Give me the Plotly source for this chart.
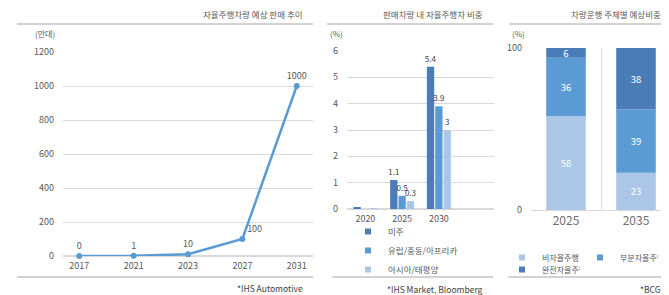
import plotly.graph_objects as go
import numpy as np

W, H = 669, 295
OX, OY = 8, 8  # page body margin offset
FONT = "Noto Sans CJK KR"
GRAY = "#595959"
LINE = "#A6A6A6"
GRID = "#D9D9D9"


def px(x):
    return (x - OX) / W


def py(y):
    return 1 - (y - OY) / H


# ---- Panel 1: 자율주행차량 예상 판매 추이 ----
sales_years = ["2017", "2021", "2023", "2027", "2031"]
sales_values = [0, 1, 10, 100, 1000]
sales_ticks = [0, 200, 400, 600, 800, 1000, 1200]

# ---- Panel 2: 판매차량 내 자율주행차 비중 ----
share_years = ["2020", "2025", "2030"]
share_americas = [0.04, 1.1, 5.4]
share_emea = [0.0, 0.5, 3.9]
share_apac = [0.03, 0.3, 3.0]
share_names = ["미주", "유럽/중동/아프리카", "아시아/태평양"]
share_ticks = [0, 1, 2, 3, 4, 5, 6]

# ---- Panel 3: 차량운행 주체별 예상비중 ----
mode_years = ["2025", "2035"]
mode_non = [58, 23]
mode_partial = [36, 39]
mode_full = [6, 38]
mode_names = ["비자율주행", "부분자율주행", "완전자율주행"]

C_DARK = "#4A7DB8"
C_MID = "#5B9BD5"
C_LIGHT = "#ABC6E7"

fig = go.Figure()

# Panel 1 line
fig.add_trace(go.Scatter(
    x=sales_years, y=sales_values, mode="lines+markers+text",
    text=[str(v) for v in sales_values],
    textposition=["top center", "top center", "top center", "top right", "top center"],
    textfont=dict(size=9, color=GRAY, family=FONT),
    line=dict(color=C_MID, width=2.5), marker=dict(size=6, color=C_MID),
    cliponaxis=False, showlegend=False, xaxis="x", yaxis="y",
))


# Panel 2 grouped bars
def lab(vals):
    return [(f"{v:g}" if v >= 0.1 else "") for v in vals]


for vals, name, col in zip([share_americas, share_emea, share_apac], share_names, [C_DARK, C_MID, C_LIGHT]):
    fig.add_trace(go.Bar(
        x=share_years, y=vals, name=name, marker=dict(color=col, line=dict(width=0)),
        text=lab(vals), textposition="outside", cliponaxis=False, constraintext="none",
        textfont=dict(size=8, color="#404040", family=FONT),
        xaxis="x2", yaxis="y2", showlegend=False, legendgroup=name,
    ))
    fig.add_trace(go.Scatter(
        x=[None], y=[None], mode="markers", name=name,
        marker=dict(symbol="square", size=6, color=col),
        xaxis="x2", yaxis="y2", legend="legend2", legendgroup=name,
    ))

# Panel 3 stacked bars
bases = np.cumsum([[0, 0], mode_non, mode_partial], axis=0)
mode_legends = ["legend3", "legend3", "legend4"]
for i, (vals, name, col) in enumerate(zip([mode_non, mode_partial, mode_full], mode_names, [C_LIGHT, C_MID, C_DARK])):
    fig.add_trace(go.Bar(
        x=mode_years, y=vals, base=bases[i], name=name,
        marker=dict(color=col, line=dict(width=0)), width=0.565, offsetgroup="stack",
        text=[str(v) for v in vals], textposition="inside", insidetextanchor="middle",
        constraintext="none",
        textfont=dict(size=9.5, color="white", family=FONT), textangle=0,
        xaxis="x3", yaxis="y3", showlegend=False, legendgroup=name,
    ))
    fig.add_trace(go.Scatter(
        x=[None], y=[None], mode="markers", name=name,
        marker=dict(symbol="square", size=6, color=col),
        xaxis="x3", yaxis="y3", legend=mode_legends[i], legendgroup=name,
    ))

tickfont = dict(size=9, color=GRAY, family=FONT)
legfont2 = dict(size=8.5, color=GRAY, family=FONT)
legfont3 = dict(size=8, color=GRAY, family=FONT)

fig.update_layout(
    width=W, height=H, margin=dict(l=0, r=0, t=0, b=0, autoexpand=False),
    paper_bgcolor="white", plot_bgcolor="white",
    font=dict(family=FONT, color=GRAY, size=9),
    barmode="group", bargap=0.32, bargroupgap=0.12,
    xaxis=dict(domain=[px(63), px(313)], type="category", showgrid=False, showline=False,
               ticks="", tickfont=tickfont, ticklabelstandoff=3, zeroline=False),
    yaxis=dict(domain=[py(256), py(52)], range=[0, 1200], tickvals=sales_ticks, showgrid=True,
               gridcolor=GRID, gridwidth=1, zeroline=True, zerolinecolor=GRID, showline=False,
               ticks="", tickfont=tickfont, ticklabelstandoff=8, anchor="x"),
    xaxis2=dict(domain=[px(347), px(494)], type="category", categoryorder="array",
                categoryarray=share_years, range=[-0.5, 3.5], showgrid=False, showline=False,
                ticks="", tickfont=tickfont, ticklabelstandoff=3, anchor="y2"),
    yaxis2=dict(domain=[py(209), py(51)], range=[0, 6], tickvals=share_ticks, showgrid=True,
                gridcolor=GRID, zeroline=True, zerolinecolor=GRID, showline=False,
                ticks="", tickfont=tickfont, ticklabelstandoff=8, anchor="x2"),
    xaxis3=dict(domain=[px(531), px(671)], type="category", showgrid=True, gridcolor=GRID,
                tickson="boundaries", showline=False, ticks="",
                tickfont=dict(size=12, color="#6E6E6E", family=FONT), ticklabelstandoff=2,
                anchor="y3"),
    yaxis3=dict(domain=[py(210), py(48)], range=[0, 100], tickvals=[0, 100], showgrid=False,
                zeroline=True, zerolinecolor=GRID, zerolinewidth=1, showline=False, ticks="",
                tickfont=tickfont, ticklabelstandoff=8, anchor="x3"),
    legend2=dict(x=px(348), y=py(217), xanchor="left", yanchor="top", orientation="v",
                 font=legfont2, bgcolor="rgba(0,0,0,0)", itemwidth=30, tracegroupgap=0),
    legend3=dict(x=px(502), y=py(243), xanchor="left", yanchor="top", orientation="h",
                 font=legfont3, bgcolor="rgba(0,0,0,0)", itemwidth=30, entrywidth=33),
    legend4=dict(x=px(502), y=py(255), xanchor="left", yanchor="top", orientation="h",
                 font=legfont3, bgcolor="rgba(0,0,0,0)", itemwidth=30, entrywidth=33),
)

# Titles, units, sources and frame lines
annots = [
    ("자율주행차량 예상 판매 추이", 305, 14, "right", 8.5),
    ("판매차량 내 자율주행차 비중", 485, 14, "right", 8.5),
    ("차량운행 주체별 예상비중", 663, 14, "right", 8.5),
    ("(만대)", 33, 33, "left", 8),
    ("(%)", 328, 34, "left", 8),
    ("(%)", 510, 34, "left", 8),
    ("*IHS Automotive", 305, 288, "right", 8.5),
    ("*IHS Market, Bloomberg", 485, 289, "right", 8.5),
    ("*BCG", 663, 289, "right", 8.5),
]
for t, x, y, anc, sz in annots:
    fig.add_annotation(text=t, x=px(x), y=py(y), xref="paper", yref="paper",
                       xanchor=anc, yanchor="middle", showarrow=False,
                       font=dict(size=sz, color="#404040" if t.startswith("*") else GRAY, family=FONT))

for x0, x1, y in [(17, 313, 24), (327, 493, 24), (509, 669, 24),
                  (17, 313, 277), (332, 493, 277), (508, 669, 277)]:
    fig.add_shape(type="line", xref="paper", yref="paper", x0=px(x0), x1=px(x1), y0=py(y), y1=py(y),
                  line=dict(color=LINE, width=1))

fig.write_html("out.html")
